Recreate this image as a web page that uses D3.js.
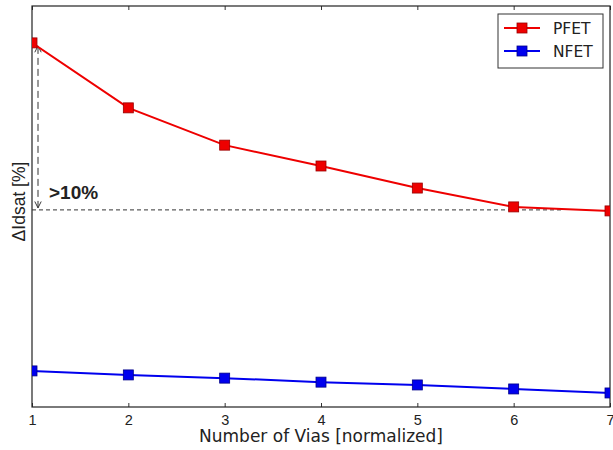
<!DOCTYPE html>
<html>
<head>
<meta charset="utf-8">
<script src="https://cdn.jsdelivr.net/npm/d3@7/dist/d3.min.js"></script>
<style>
  body { margin: 0; background: #fff; }
  svg { display: block; font-family: "DejaVu Sans", sans-serif; }
</style>
</head>
<body>
<svg id="chart" width="613" height="450"></svg>
<script>
// Via count (normalized) and relative saturation-current shift per device type
const vias = [1, 2, 3, 4, 5, 6, 7];
const pfet = [90.8, 74.6, 65.3, 60.1, 54.6, 49.9, 48.9];
const nfet = [9.0, 8.0, 7.2, 6.2, 5.5, 4.5, 3.5];
const seriesNames = ["PFET", "NFET"];
const seriesColors = ["#ee0000", "#0000ee"];
const refLevel = 49.9;   // reference level reached at 6 vias
const refEndX = 6.5;

const svg = d3.select("#chart");
const margin = { left: 32, right: 3, top: 6, bottom: 43 };
const W = 613, H = 450;

const x = d3.scaleLinear().domain([1, 7]).range([margin.left, W - margin.right]);
const y = d3.scaleLinear().domain([0, 100]).range([H - margin.bottom, margin.top]);

// axes: inside ticks on bottom and top
svg.append("g")
  .attr("transform", `translate(0,${y(0)})`)
  .call(d3.axisBottom(x).tickValues(vias).tickFormat(d3.format("d")).tickSizeInner(-4).tickSizeOuter(0).tickPadding(4))
  .call(g => g.select(".domain").remove())
  .call(g => g.selectAll("line").attr("stroke", "#333"))
  .call(g => g.selectAll("text").attr("dy", "1em").attr("y", 3).attr("font-size", 14.5).attr("fill", "#222"));

svg.append("g")
  .attr("transform", `translate(0,${y(100)})`)
  .call(d3.axisTop(x).tickValues(vias).tickFormat("").tickSizeInner(-4).tickSizeOuter(0))
  .call(g => g.select(".domain").remove())
  .call(g => g.selectAll("line").attr("stroke", "#333"));

// plot frame
svg.append("rect")
  .attr("x", x(1)).attr("y", y(100))
  .attr("width", x(7) - x(1)).attr("height", y(0) - y(100))
  .attr("fill", "none").attr("stroke", "#222").attr("stroke-width", 1.2);

// reference dashed line and double-headed arrow
const defs = svg.append("defs");
defs.append("marker")
  .attr("id", "arr").attr("viewBox", "0 0 10 10").attr("refX", 9).attr("refY", 5)
  .attr("markerWidth", 8).attr("markerHeight", 8).attr("orient", "auto-start-reverse")
  .attr("markerUnits", "userSpaceOnUse")
  .append("path").attr("d", "M1,1 L9,5 L1,9").attr("fill", "none").attr("stroke", "#333").attr("stroke-width", 1.2);

svg.append("line")
  .attr("x1", x(1)).attr("x2", x(refEndX))
  .attr("y1", y(refLevel) + 3).attr("y2", y(refLevel) + 3)
  .attr("stroke", "#333").attr("stroke-width", 1).attr("stroke-dasharray", "4,3");

svg.append("line")
  .attr("x1", x(1) + 6).attr("x2", x(1) + 6)
  .attr("y1", y(refLevel) + 1).attr("y2", y(pfet[0]) + 3)
  .attr("stroke", "#333").attr("stroke-width", 1).attr("stroke-dasharray", "7,4")
  .attr("marker-start", "url(#arr)").attr("marker-end", "url(#arr)");

svg.append("text")
  .attr("x", x(1) + 17).attr("y", y(refLevel) - 8)
  .attr("font-family", "'Liberation Sans', sans-serif")
  .attr("font-size", 19).attr("font-weight", "bold").attr("fill", "#222")
  .text(">10%");

// series lines and square markers
const clip = defs.append("clipPath").attr("id", "plotclip");
clip.append("rect").attr("x", x(1)).attr("y", y(100)).attr("width", x(7) - x(1)).attr("height", y(0) - y(100));

const line = d3.line().x((d, i) => x(vias[i])).y(d => y(d));
[pfet, nfet].forEach((s, k) => {
  const g = svg.append("g").attr("clip-path", "url(#plotclip)");
  g.append("path").datum(s).attr("d", line)
    .attr("fill", "none").attr("stroke", seriesColors[k]).attr("stroke-width", 2);
  g.selectAll("rect").data(s).join("rect")
    .attr("x", (d, i) => x(vias[i]) - 5).attr("y", d => y(d) - 5)
    .attr("width", 10).attr("height", 10)
    .attr("fill", seriesColors[k]).attr("stroke", k === 0 ? "#990000" : "#000088").attr("stroke-width", 0.8);
});

// legend
const lg = svg.append("g").attr("transform", "translate(498,14)");
lg.append("rect").attr("width", 105).attr("height", 54)
  .attr("fill", "#fff").attr("stroke", "#333").attr("stroke-width", 1);
seriesNames.forEach((n, k) => {
  const yy = 14 + k * 23;
  lg.append("line").attr("x1", 6).attr("x2", 42).attr("y1", yy).attr("y2", yy)
    .attr("stroke", seriesColors[k]).attr("stroke-width", 2);
  lg.append("rect").attr("x", 19).attr("y", yy - 5).attr("width", 10).attr("height", 10)
    .attr("fill", seriesColors[k]).attr("stroke", k === 0 ? "#990000" : "#000088").attr("stroke-width", 0.8);
  lg.append("text").attr("x", 55).attr("y", yy + 5.5)
    .attr("font-size", 15.5).attr("fill", "#222").text(n);
});

// axis titles
svg.append("text")
  .attr("x", (x(1) + x(7)) / 2).attr("y", 442)
  .attr("text-anchor", "middle").attr("font-size", 17).attr("fill", "#222")
  .text("Number of Vias [normalized]");

svg.append("text")
  .attr("transform", `translate(25,${(y(0) + y(100)) / 2 - 5}) rotate(-90)`)
  .attr("text-anchor", "middle")
  .attr("font-family", "'Liberation Sans', sans-serif")
  .attr("font-size", 17.5).attr("fill", "#222")
  .text("ΔIdsat [%]");
</script>
</body>
</html>
